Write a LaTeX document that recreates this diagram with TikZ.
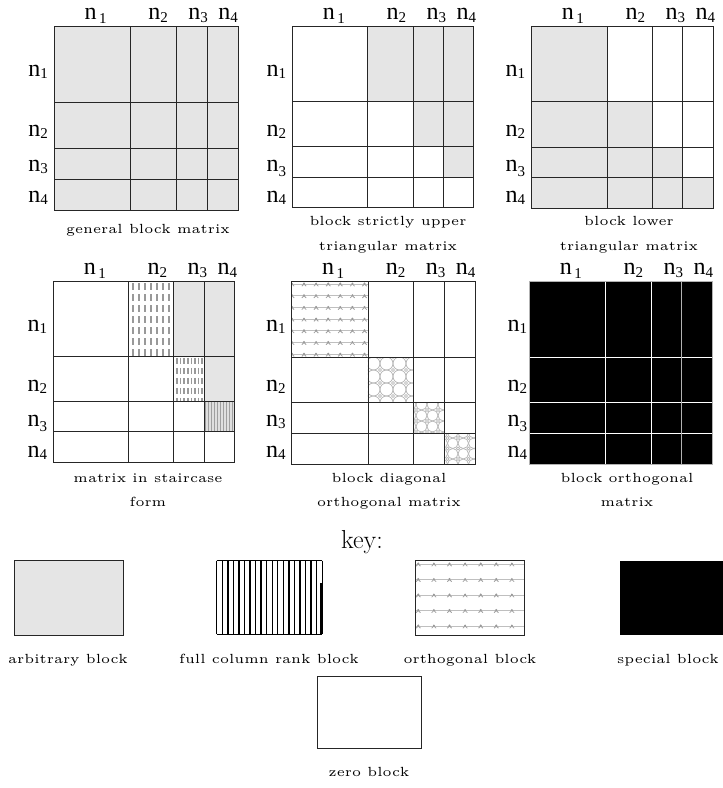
\documentclass[tikz,border=0pt]{standalone}
\usepackage{fontspec}
\newfontfamily\nfont{Liberation Serif}
\definecolor{lf}{RGB}{229,229,229}
\newcommand\nsub[2][2.5pt]{n\raisebox{-#1}{\fontsize{15}{15}\selectfont #2}}
\newcommand\nsp[1]{n\hspace{2.5pt}\raisebox{-4pt}{\fontsize{15}{15}\selectfont #1}}
\newcommand\cpt[1]{\scalebox{2.65}{\fontsize{5}{6}\selectfont #1}}
\newcommand\mdefs[3]{%
 \pgfmathsetmacro\mxa{#1}\pgfmathsetmacro\mxb{#1+0.416*#3}\pgfmathsetmacro\mxc{#1+0.665*#3}%
 \pgfmathsetmacro\mxd{#1+0.833*#3}\pgfmathsetmacro\mxe{#1+#3}%
 \pgfmathsetmacro\mya{#2}\pgfmathsetmacro\myb{#2+0.416*#3}\pgfmathsetmacro\myc{#2+0.665*#3}%
 \pgfmathsetmacro\myd{#2+0.833*#3}\pgfmathsetmacro\mye{#2+#3}}
\newcommand\mgrid[1][]{%
 \draw[gridl,#1] (\mxb,\mya) -- (\mxb,\mye) (\mxc,\mya) -- (\mxc,\mye) (\mxd,\mya) -- (\mxd,\mye)
   (\mxa,\myb) -- (\mxe,\myb) (\mxa,\myc) -- (\mxe,\myc) (\mxa,\myd) -- (\mxe,\myd);
 \draw[gridl,#1] (\mxa,\mya) rectangle (\mxe,\mye);}
\newcommand\mlabels[3]{%
 \node[nlab] (#1c1) at ({\mxa+41.5},{\mya-6.5}) {\nsp{1}};
 \node[nlab] (#1c2) at ({\mxa+104},{\mya-6.5}) {\nsub{2}};
 \node[nlab] (#1c3) at ({\mxa+144},{\mya-6.5}) {\nsub{3}};
 \node[nlab] (#1c4) at ({\mxa+174},{\mya-6.5}) {\nsub{4}};
 \node[nlab,anchor=base east] (#1r1) at ({\mxa-#2},{\mya+50}) {\nsub{1}};
 \node[nlab,anchor=base east] (#1r2) at ({\mxa-#2},{\mya+110}) {\nsub{2}};
 \node[nlab,anchor=base east] (#1r3) at ({\mxa-#2},{\mya+145}) {\nsub[#3]{3}};
 \node[nlab,anchor=base east] (#1r4) at ({\mxa-#2},{\mya+176}) {\nsub{4}};}
\newcommand\orthpat[9]{%
 \begin{scope}
 \clip (#1,#2) rectangle (#3,#4);
 \foreach \kk in {0,...,#7}{
   \draw[gray!50, line width=0.9pt] (#1,{#5+#6*\kk}) -- (#3,{#5+#6*\kk});
   \foreach \mm in {-1,...,9}{
     \draw[gray!75, line width=0.8pt] ({#8+#9*\mm-2.2},{#5+#6*\kk+2.2}) -- ({#8+#9*\mm},{#5+#6*\kk}) -- ({#8+#9*\mm+2.2},{#5+#6*\kk+2.2});
     \fill[gray!80] ({#8+#9*\mm},{#5+#6*\kk-0.5}) circle (1.1pt);
   }}
 \end{scope}}
\newcommand\circpat[7]{%
 \begin{scope}
 \clip (#1,#2) rectangle (#3,#4);
 \foreach \ii in {-5,...,5}{\foreach \jj in {-5,...,5}{
   \draw[gray!55, line width=0.8pt] ({#5+(\ii+0.5)*#7},{#6+(\jj+0.5)*#7}) circle [radius={0.5*#7}];
   \draw[gray!65, line width=0.6pt, fill=white] ({#5+\ii*#7-1.5},{#6+\jj*#7}) -- ++(1.5,-1.5) -- ++(1.5,1.5) -- ++(-1.5,1.5) -- cycle;
 }}
 \end{scope}}
\tikzset{
 gridl/.style={draw=black!85, line width=0.9pt},
 nlab/.style={font=\nfont\fontsize{24}{24}\selectfont, inner sep=0pt, anchor=base},
 captxt/.style={inner sep=0pt, anchor=base},
}
\begin{document}
\begin{tikzpicture}[x=1pt,y=-1pt]
\useasboundingbox (0,0) rectangle (723,788);
% ---- M1 general
\mdefs{54}{26}{184}
\fill[lf] (\mxa,\mya) rectangle (\mxe,\mye);
\mgrid
\mlabels{ma}{6}{2.5pt}
\node[captxt] (capa) at (148,233) {\cpt{general block matrix}};
% ---- M2 strictly upper
\mdefs{292.3}{26}{181.5}
\fill[lf] (\mxb,\mya) rectangle (\mxe,\myb) (\mxc,\myb) rectangle (\mxe,\myc) (\mxd,\myc) rectangle (\mxe,\myd);
\mgrid
\mlabels{mb}{6}{5pt}
\node[captxt] (capb1) at (388,225.5) {\cpt{block strictly upper}};
\node[captxt] (capb2) at (388,250) {\cpt{triangular matrix}};
% ---- M3 lower
\mdefs{531.3}{26}{182}
\fill[lf] (\mxa,\mya) rectangle (\mxb,\myb) (\mxa,\myb) rectangle (\mxc,\myc) (\mxa,\myc) rectangle (\mxd,\myd) (\mxa,\myd) rectangle (\mxe,\mye);
\mgrid
\mlabels{mc}{6}{5pt}
\node[captxt] (capc1) at (629,225.5) {\cpt{block lower}};
\node[captxt] (capc2) at (629,250) {\cpt{triangular matrix}};
% ---- M4 staircase
\mdefs{53.3}{281}{181}
\fill[lf] (\mxc,\mya) rectangle (\mxe,\myb) (\mxd,\myb) rectangle (\mxe,\myc);
\begin{scope}
 \clip (\mxb,\mya) rectangle (\mxc,\myb);
 \foreach \kk in {0,...,6}
  \draw[gray!80, line width=2pt, dash pattern=on 6.5pt off 4.5pt, dash phase=-2pt] ({\mxb+4.5+6*\kk},\mya) -- ({\mxb+4.5+6*\kk},\myb);
\end{scope}
\begin{scope}
 \clip (\mxc,\myb) rectangle (\mxd,\myc);
 \foreach \kk in {0,...,7}
  \draw[gray!80, line width=1.6pt, dash pattern=on 6.5pt off 3.5pt, dash phase=-1.5pt] ({\mxc+3.3+3.6*\kk},\myb) -- ({\mxc+3.3+3.6*\kk},\myc);
\end{scope}
\begin{scope}
 \clip (\mxd,\myc) rectangle (\mxe,\myd);
 \fill[gray!25] (\mxd,\myc) rectangle (\mxe,\myd);
 \foreach \kk in {0,...,9}
  \draw[gray!75, line width=1.3pt] ({\mxd+1.5+3*\kk},\myc) -- ({\mxd+1.5+3*\kk},\myd);
\end{scope}
\mgrid
\mlabels{md}{6}{5pt}
\node[captxt] (capd1) at (148,482) {\cpt{matrix in staircase}};
\node[captxt] (capd2) at (148,506) {\cpt{form}};
% ---- M5 block diagonal orthogonal
\mdefs{291.7}{281}{183.3}
\orthpat{\mxa}{\mya}{\mxb}{\myb}{284}{11.7}{6}{304}{12.1}
\circpat{\mxb}{\myb}{\mxc}{\myc}{380}{370}{13}
\circpat{\mxc}{\myc}{\mxd}{\myd}{427}{410}{11}
\circpat{\mxd}{\myd}{\mxe}{\mye}{458}{438}{10.5}
\mgrid
\mlabels{me}{6}{2.5pt}
\node[captxt] (cape1) at (389,482) {\cpt{block diagonal}};
\node[captxt] (cape2) at (389,506) {\cpt{orthogonal matrix}};
% ---- M6 block orthogonal
\mdefs{529.3}{281}{183}
\fill[black] (\mxa,\mya) rectangle (\mxe,\mye);
\draw[white, line width=0.9pt] (\mxb,\mya) -- (\mxb,\mye) (\mxc,\mya) -- (\mxc,\mye)
   (\mxa,\myb) -- (\mxe,\myb) (\mxa,\myc) -- (\mxe,\myc) (\mxa,\myd) -- (\mxe,\myd);
\draw[gray!60, line width=0.9pt] (\mxd,\mya) -- (\mxd,\mye);
\draw[gray!60, line width=0.9pt] (\mxa,\mya) rectangle (\mxe,\mye);
\mlabels{mf}{2}{5pt}
\node[captxt] (capf1) at (627,482) {\cpt{block orthogonal}};
\node[captxt] (capf2) at (627,506) {\cpt{matrix}};
% ---- key
\node[inner sep=0pt, anchor=base, font=\fontsize{26}{26}\selectfont] (key) at (362,548) {key:};
\draw[gridl, fill=lf] (14,560.7) rectangle (123,635.3);
\node[captxt] (ka) at (68,663) {\cpt{arbitrary block}};
% full column rank
\foreach \kk in {0,...,18}
  \draw[black, line width=1.4pt] ({216.7+5.55*\kk},560.7) -- ({216.7+5.55*\kk},634.3);
\draw[black, line width=2.4pt] (311,560.7) -- (311,583);
\draw[black, line width=2.4pt] (321.5,583) -- (321.5,634.3);
\draw[black, line width=0.8pt] (322.3,560.7) -- (322.3,583);
\draw[black, line width=1.1pt] (216.7,560.7) -- (322.3,560.7) (216.7,634.3) -- (322.3,634.3);
\node[captxt] (kb) at (269,663) {\cpt{full column rank block}};
% orthogonal
\orthpat{415.7}{560.7}{524.7}{635.3}{564}{15.5}{4}{418.3}{15.6}
\draw[gridl] (415.7,560.7) rectangle (524.7,635.3);
\node[captxt] (kc) at (470,663) {\cpt{orthogonal block}};
% special
\fill[black] (619.7,560.7) rectangle (722.5,634.7);
\node[captxt] (kd) at (668,663) {\cpt{special block}};
% zero
\draw[gridl] (317,676) rectangle (421,748);
\node[captxt] (ke) at (369,776) {\cpt{zero block}};
\end{tikzpicture}
\end{document}
